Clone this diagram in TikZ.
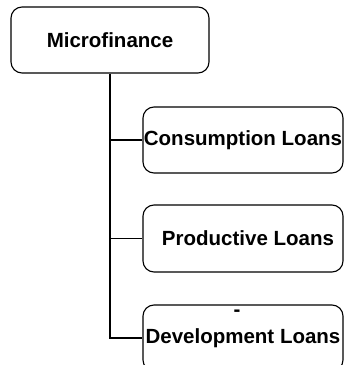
\documentclass[tikz,border=0pt]{standalone}
\usepackage{fontspec}
\setmainfont{Liberation Sans}
\usepackage{tikz}
\usetikzlibrary{arrows.meta,
positioning,
calc}

\begin{document}
\begin{tikzpicture}[
				x=1pt, y=1pt,
				component/.style={
					draw,
					rounded corners=11pt,
					minimum width=198pt,
					minimum height=66pt,
					inner sep=0pt,
					align=center,
					line width=1.1pt,
					font=\fontsize{20.5}{24}\selectfont\bfseries
				},
				link/.style={
					line width=2pt
				}
				]
				\useasboundingbox (0,0) rectangle (344,365);
				\clip (0,0) rectangle (344,365);
				
				\node[component] (micro) at (110,325) {Microfinance};
				\node[component, minimum width=200pt] (consumption) at (243,225) {Consumption Loans};
				\node[component, minimum width=200pt, minimum height=67pt] (productive) at (243,126.5) {\hspace*{10pt}Productive Loans};
				\node[component, minimum width=200pt] (development) at (243,27) {Development Loans};
				\node[font=\fontsize{20.5}{24}\selectfont\bfseries, inner sep=0pt] (dash) at (237,52) {-};
				
				% tree connectors
				\draw[link] (micro.south) |- (development.west);
				\draw[link] (micro.south |- consumption.west) -- (consumption.west);
				\draw[line width=1pt] (micro.south |- productive.west) -- (productive.west);
			\end{tikzpicture}
\end{document}
